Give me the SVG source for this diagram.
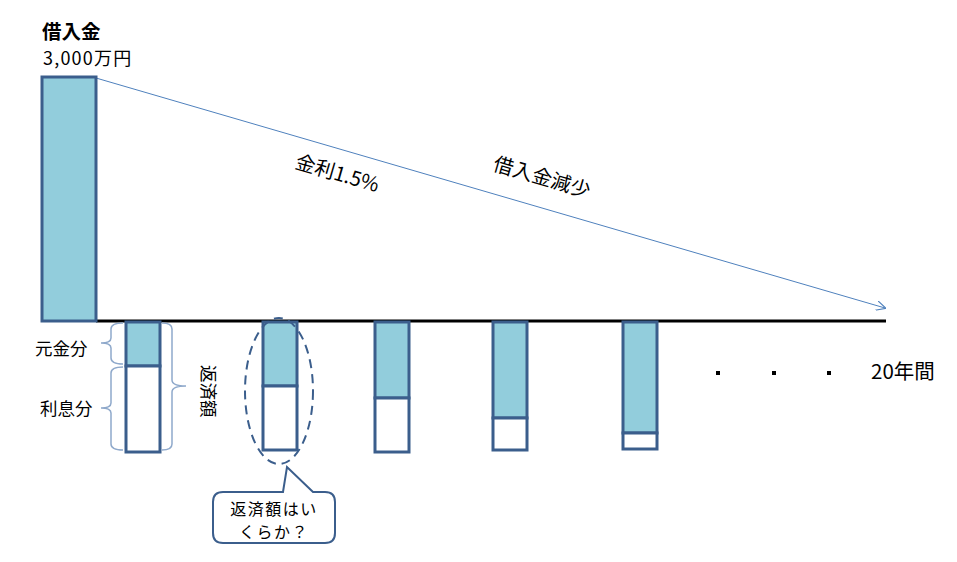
<svg xmlns="http://www.w3.org/2000/svg" width="957" height="562" viewBox="0 0 957 562">
<defs>
<style>
.t{font-family:"Noto Sans CJK JP","Noto Sans",sans-serif;fill:#000}
.bar{stroke:#3B5E8C;stroke-width:3}
.b{fill:#92CDDC}
.w{fill:#fff}
.br{fill:none;stroke:#8FA9CB;stroke-width:1.5}
</style>
<marker id="ah" viewBox="0 0 10 10" refX="9" refY="5" markerWidth="10" markerHeight="10" markerUnits="userSpaceOnUse" orient="auto">
<path d="M0,0 L10,5 L0,10" fill="none" stroke="#4F81BD" stroke-width="1.2"/>
</marker>
</defs>
<rect width="957" height="562" fill="#fff"/>
<g id="title">
<text class="t" x="42" y="38.5" font-size="19.5" font-weight="bold">借入金</text>
<text class="t" x="43" y="65" font-size="18" letter-spacing="1.2">3,000万円</text>
</g>
<g id="connectors">
<line x1="96" y1="78" x2="885" y2="308" stroke="#4F81BD" stroke-width="1" marker-end="url(#ah)"/>
<line x1="96" y1="321" x2="886" y2="321" stroke="#000" stroke-width="3"/>
</g>
<g id="loan">
<rect class="bar b" x="42" y="77" width="54" height="244"/>
</g>
<g id="bar1">
<rect class="bar b" x="126" y="322" width="34" height="44"/>
<rect class="bar w" x="126" y="366" width="34" height="86"/>
</g>
<g id="bar2">
<rect class="bar b" x="263" y="322" width="34" height="64"/>
<rect class="bar w" x="263" y="386" width="34" height="64"/>
</g>
<g id="bar3">
<rect class="bar b" x="375" y="322" width="34" height="76"/>
<rect class="bar w" x="375" y="398" width="34" height="54"/>
</g>
<g id="bar4">
<rect class="bar b" x="493" y="322" width="34" height="96"/>
<rect class="bar w" x="493" y="418" width="34" height="32"/>
</g>
<g id="bar5">
<rect class="bar b" x="623" y="322" width="34" height="111"/>
<rect class="bar w" x="623" y="433" width="34" height="16"/>
</g>
<g id="braces">
<path class="br" d="M123,323 Q111,323 111,329 L111,338 Q111,343 101,343 Q111,343 111,348 L111,358 Q111,364 123,364"/>
<path class="br" d="M123,367 Q111,367 111,373 L111,403 Q111,408 101,408 Q111,408 111,413 L111,444 Q111,450 123,450"/>
<path class="br" d="M162,323 Q172,323 172,329 L172,380 Q172,386 186,386 Q172,386 172,392 L172,444 Q172,450 162,450"/>
</g>
<g id="labels">
<text class="t" x="35" y="355" font-size="17.5">元金分</text>
<text class="t" x="40" y="415" font-size="17.5">利息分</text>
<text class="t" font-size="17.5" transform="translate(202,365) rotate(90)">返済額</text>
<text class="t" font-size="20" transform="translate(294,168) rotate(16.3)">金利1.5%</text>
<text class="t" font-size="20" transform="translate(492,170) rotate(16.3)">借入金減少</text>
<text class="t" x="871" y="379" font-size="20.5">20年間</text>
</g>
<g id="dots" fill="#000">
<rect x="716" y="371" width="4" height="4"/>
<rect x="772" y="371" width="4" height="4"/>
<rect x="827" y="371" width="4" height="4"/>
</g>
<g id="highlight">
<ellipse cx="279" cy="391" rx="34" ry="73" fill="none" stroke="#3B5E8C" stroke-width="2" stroke-dasharray="9,6"/>
</g>
<g id="callout">
<path d="M223,492 L283,492 L287,467 L313,492 L325,492 Q335,492 335,502 L335,533 Q335,543 325,543 L223,543 Q213,543 213,533 L213,502 Q213,492 223,492 Z" fill="#fff" stroke="#3B5E8C" stroke-width="2"/>
<text class="t" x="274" y="514.5" font-size="16" letter-spacing="1.5" text-anchor="middle">返済額はい</text>
<text class="t" x="274" y="538" font-size="16" letter-spacing="1.5" text-anchor="middle">くらか？</text>
</g>
</svg>
